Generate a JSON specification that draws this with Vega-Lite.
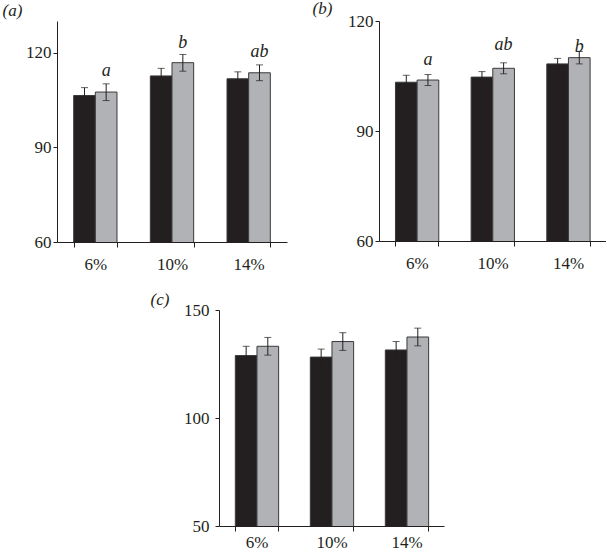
{
  "$schema": "https://vega.github.io/schema/vega-lite/v6.json",
  "background": "white",
  "padding": {"left": 2, "top": 0, "right": 0, "bottom": 0},
  "config": {
    "view": {"stroke": null},
    "axis": {"domainColor": "#231f20", "tickColor": "#231f20", "labelColor": "#231f20", "labelFont": "'Liberation Serif', 'Times New Roman', Times, serif", "labelFontSize": 17, "grid": false, "tickSize": 4, "domainWidth": 1, "tickWidth": 1, "labelPadding": 2, "title": null},
    "title": {"font": "'Liberation Serif', 'Times New Roman', Times, serif", "fontSize": 17, "fontWeight": "normal", "fontStyle": "italic", "color": "#231f20", "anchor": "start", "frame": "bounds", "offset": 1}
  },
  "datasets": {
    "d": [
      {"panel": "a", "conc": "6%", "grp": "control", "mean": 106.4, "lo": 103.9, "hi": 108.9, "letter": "", "ly": null},
      {"panel": "a", "conc": "6%", "grp": "treatment", "mean": 107.5, "lo": 104.8, "hi": 110.1, "letter": "a", "ly": 112.7},
      {"panel": "a", "conc": "10%", "grp": "control", "mean": 112.6, "lo": 110.2, "hi": 115.0, "letter": "", "ly": null},
      {"panel": "a", "conc": "10%", "grp": "treatment", "mean": 116.8, "lo": 114.1, "hi": 119.4, "letter": "b", "ly": 121.3},
      {"panel": "a", "conc": "14%", "grp": "control", "mean": 111.7, "lo": 109.5, "hi": 113.9, "letter": "", "ly": null},
      {"panel": "a", "conc": "14%", "grp": "treatment", "mean": 113.6, "lo": 111.1, "hi": 116.1, "letter": "ab", "ly": 118.7},
      {"panel": "b", "conc": "6%", "grp": "control", "mean": 103.3, "lo": 101.4, "hi": 105.2, "letter": "", "ly": null},
      {"panel": "b", "conc": "6%", "grp": "treatment", "mean": 103.9, "lo": 102.4, "hi": 105.4, "letter": "a", "ly": 108.0},
      {"panel": "b", "conc": "10%", "grp": "control", "mean": 104.7, "lo": 103.2, "hi": 106.2, "letter": "", "ly": null},
      {"panel": "b", "conc": "10%", "grp": "treatment", "mean": 107.1, "lo": 105.6, "hi": 108.6, "letter": "ab", "ly": 112.0},
      {"panel": "b", "conc": "14%", "grp": "control", "mean": 108.3, "lo": 106.8, "hi": 109.8, "letter": "", "ly": null},
      {"panel": "b", "conc": "14%", "grp": "treatment", "mean": 110.0, "lo": 108.3, "hi": 111.7, "letter": "b", "ly": 111.5},
      {"panel": "c", "conc": "6%", "grp": "control", "mean": 128.9, "lo": 124.6, "hi": 133.2, "letter": "", "ly": null},
      {"panel": "c", "conc": "6%", "grp": "treatment", "mean": 133.2, "lo": 129.1, "hi": 137.3, "letter": "", "ly": null},
      {"panel": "c", "conc": "10%", "grp": "control", "mean": 128.2, "lo": 124.5, "hi": 131.9, "letter": "", "ly": null},
      {"panel": "c", "conc": "10%", "grp": "treatment", "mean": 135.4, "lo": 131.3, "hi": 139.5, "letter": "", "ly": null},
      {"panel": "c", "conc": "14%", "grp": "control", "mean": 131.5, "lo": 127.6, "hi": 135.4, "letter": "", "ly": null},
      {"panel": "c", "conc": "14%", "grp": "treatment", "mean": 137.5, "lo": 133.4, "hi": 141.6, "letter": "", "ly": null}
    ]
  },
  "spacing": 19,
  "center": true,
  "vconcat": [
    {
      "spacing": 25,
      "hconcat": [
        {
          "width": 230, "height": 221,
          "title": {"text": "(a)", "dx": -23, "dy": 0},
          "data": {"name": "d"},
          "transform": [{"filter": "datum.panel == 'a'"}],
          "encoding": {
            "x": {"field": "conc", "type": "nominal", "sort": ["6%", "10%", "14%"], "scale": {"paddingInner": 0.435, "paddingOuter": 0.2175}, "axis": {"labelAngle": 0, "tickBand": "extent", "tickSize": 5, "labelPadding": 9}},
            "xOffset": {"field": "grp", "type": "nominal", "sort": ["control", "treatment"]}
          },
          "layer": [
            {"mark": {"type": "bar", "stroke": "#3a3a3a", "strokeWidth": 1, "clip": true},
             "encoding": {
               "y": {"field": "mean", "type": "quantitative", "scale": {"domain": [60, 130], "zero": false, "nice": false}, "axis": {"values": [60, 90, 120]}},
               "color": {"field": "grp", "type": "nominal", "scale": {"domain": ["control", "treatment"], "range": ["#231f20", "#b1b2b5"]}, "legend": null}}},
            {"mark": {"type": "rule", "color": "#231f20", "strokeWidth": 1}, "encoding": {"y": {"field": "lo", "type": "quantitative"}, "y2": {"field": "hi"}}},
            {"mark": {"type": "tick", "size": 7, "thickness": 1, "color": "#231f20"}, "encoding": {"y": {"field": "hi", "type": "quantitative"}}},
            {"mark": {"type": "tick", "size": 7, "thickness": 1, "color": "#231f20"}, "encoding": {"y": {"field": "lo", "type": "quantitative"}}},
            {"mark": {"type": "text", "font": "'Liberation Serif', 'Times New Roman', Times, serif", "fontSize": 18, "fontStyle": "italic", "baseline": "alphabetic", "color": "#231f20"},
             "encoding": {"y": {"field": "ly", "type": "quantitative"}, "text": {"field": "letter"}}}
          ]
        },
        {
          "width": 227, "height": 220,
          "title": {"text": "(b)", "dx": -35, "dy": 7},
          "data": {"name": "d"},
          "transform": [{"filter": "datum.panel == 'b'"}],
          "encoding": {
            "x": {"field": "conc", "type": "nominal", "sort": ["6%", "10%", "14%"], "scale": {"paddingInner": 0.435, "paddingOuter": 0.2175}, "axis": {"labelAngle": 0, "tickBand": "extent", "tickSize": 5, "labelPadding": 9}},
            "xOffset": {"field": "grp", "type": "nominal", "sort": ["control", "treatment"]}
          },
          "layer": [
            {"mark": {"type": "bar", "stroke": "#3a3a3a", "strokeWidth": 1, "clip": true},
             "encoding": {
               "y": {"field": "mean", "type": "quantitative", "scale": {"domain": [60, 120], "zero": false, "nice": false}, "axis": {"values": [60, 90, 120]}},
               "color": {"field": "grp", "type": "nominal", "scale": {"domain": ["control", "treatment"], "range": ["#231f20", "#b1b2b5"]}, "legend": null}}},
            {"mark": {"type": "rule", "color": "#231f20", "strokeWidth": 1}, "encoding": {"y": {"field": "lo", "type": "quantitative"}, "y2": {"field": "hi"}}},
            {"mark": {"type": "tick", "size": 7, "thickness": 1, "color": "#231f20"}, "encoding": {"y": {"field": "hi", "type": "quantitative"}}},
            {"mark": {"type": "tick", "size": 7, "thickness": 1, "color": "#231f20"}, "encoding": {"y": {"field": "lo", "type": "quantitative"}}},
            {"mark": {"type": "text", "font": "'Liberation Serif', 'Times New Roman', Times, serif", "fontSize": 18, "fontStyle": "italic", "baseline": "alphabetic", "color": "#231f20"},
             "encoding": {"y": {"field": "ly", "type": "quantitative"}, "text": {"field": "letter"}}}
          ]
        }
      ]
    },
    {
      "width": 225, "height": 216,
      "title": {"text": "(c)", "dx": -33, "dy": 9},
      "data": {"name": "d"},
      "transform": [{"filter": "datum.panel == 'c'"}],
      "encoding": {
        "x": {"field": "conc", "type": "nominal", "sort": ["6%", "10%", "14%"], "scale": {"paddingInner": 0.435, "paddingOuter": 0.2175}, "axis": {"labelAngle": 0, "tickBand": "extent", "tickSize": 5, "labelPadding": 3}},
        "xOffset": {"field": "grp", "type": "nominal", "sort": ["control", "treatment"]}
      },
      "layer": [
        {"mark": {"type": "bar", "stroke": "#3a3a3a", "strokeWidth": 1, "clip": true},
         "encoding": {
           "y": {"field": "mean", "type": "quantitative", "scale": {"domain": [50, 150], "zero": false, "nice": false}, "axis": {"values": [50, 100, 150], "labelPadding": 6}},
           "color": {"field": "grp", "type": "nominal", "scale": {"domain": ["control", "treatment"], "range": ["#231f20", "#b1b2b5"]}, "legend": null}}},
        {"mark": {"type": "rule", "color": "#231f20", "strokeWidth": 1}, "encoding": {"y": {"field": "lo", "type": "quantitative"}, "y2": {"field": "hi"}}},
        {"mark": {"type": "tick", "size": 7, "thickness": 1, "color": "#231f20"}, "encoding": {"y": {"field": "hi", "type": "quantitative"}}},
        {"mark": {"type": "tick", "size": 7, "thickness": 1, "color": "#231f20"}, "encoding": {"y": {"field": "lo", "type": "quantitative"}}}
      ]
    }
  ]
}
